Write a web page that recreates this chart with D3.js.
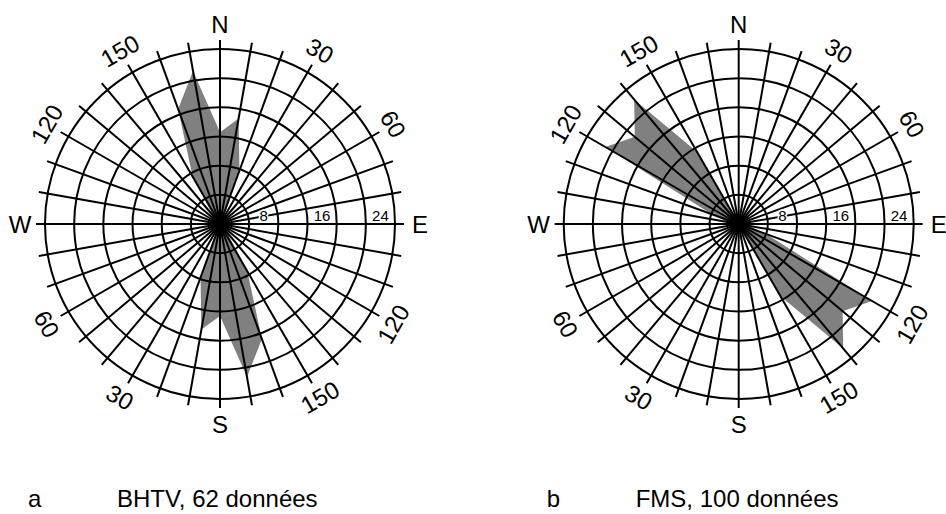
<!DOCTYPE html>
<html>
  <head>
    <meta charset="UTF-8">
    <style>
      body {
        margin: 0;
        background: #fff;
        font-family: 'Liberation Sans', Arial, sans-serif;
      }

      .grid line, .grid circle {
        stroke: #000;
        stroke-width: 2;
        fill: none;
      }

      .ring-label {
        font-size: 15px;
        paint-order: stroke;
        stroke: #fff;
        stroke-width: 3px;
      }

      .big {
        font-size: 24px;
      }
    </style>
    <script src="https://d3js.org/d3.v7.min.js"></script>
  </head>

  <body>
    <svg id="chart"></svg>

    <script type="text/javascript">
      // bin directions (degrees from N, clockwise), axial data so each value is mirrored at +180
      let bearings = [0, 10, 20, 30, 40, 50, 60, 70, 80, 90, 100, 110, 120, 130, 140, 150, 160, 170]
      let bhtvValues = [12.6, 14.7, 7.8, 1, 0, 0, 0, 0, 0, 0, 0, 0, 0, 0, 1.5, 7.5, 16.8, 21.3]
      let fmsValues = [0, 0, 0, 0, 0, 0, 0, 0, 0, 0, 1.5, 4, 21.1, 18.6, 22.3, 11.4, 0.5, 0]

      let rings = [4, 8, 12, 16, 20, 24]
      let ringLabels = [8, 16, 24]
      let angleLabels = [30, 60, 120, 150, 210, 240, 300, 330]
      let compass = [
        {name: 'N', bearing: 0},
        {name: 'E', bearing: 90},
        {name: 'S', bearing: 180},
        {name: 'W', bearing: 270},
      ]

      let panels = [
        {cx: 220, cy: 224, values: bhtvValues, letter: 'a', caption: 'BHTV, 62 données'},
        {cx: 738.7, cy: 224, values: fmsValues, letter: 'b', caption: 'FMS, 100 données'},
      ]

      let width = 946
      let height = 514

      let svg = d3.select('#chart')
        .attr('width', width)
        .attr('height', height)

      let rScale = d3.scaleLinear()
        .domain([0, 24])
        .range([0, 175])

      let rad = d => d * Math.PI / 180
      let px = (b, r) => r * Math.sin(rad(b))
      let py = (b, r) => -r * Math.cos(rad(b))

      function drawPanel(p) {
        let g = svg.append('g')
          .attr('transform', `translate(${p.cx}, ${p.cy})`)

        // full circle of bins: the second half repeats the first
        let points = bearings.map((b, i) => ({b: b, v: p.values[i]}))
          .concat(bearings.map((b, i) => ({b: b + 180, v: p.values[i]})))

        let rose = d3.lineRadial()
          .angle(d => rad(d.b))
          .radius(d => rScale(d.v))
          .curve(d3.curveLinearClosed)

        g.append('path')
          .attr('d', rose(points))
          .attr('fill', '#808080')

        let grid = g.append('g').attr('class', 'grid')

        grid.selectAll('circle')
          .data(rings)
          .enter()
          .append('circle')
          .attr('r', d => rScale(d))

        let spokeLen = rScale(24) + 9
        grid.selectAll('line')
          .data(d3.range(0, 360, 10))
          .enter()
          .append('line')
          .attr('x1', 0)
          .attr('y1', 0)
          .attr('x2', d => px(d, spokeLen))
          .attr('y2', d => py(d, spokeLen))

        g.selectAll('.ring-label')
          .data(ringLabels)
          .enter()
          .append('text')
          .attr('class', 'ring-label')
          .attr('x', d => rScale(d - 2))
          .attr('y', -3)
          .attr('text-anchor', 'middle')
          .text(d => d)

        let labelR = 200

        g.selectAll('.compass')
          .data(compass)
          .enter()
          .append('text')
          .attr('class', 'big')
          .attr('x', d => px(d.bearing, labelR))
          .attr('y', d => py(d.bearing, labelR))
          .attr('dy', '0.36em')
          .attr('text-anchor', 'middle')
          .text(d => d.name)

        g.selectAll('.angle')
          .data(angleLabels)
          .enter()
          .append('text')
          .attr('class', 'big')
          .attr('text-anchor', 'middle')
          .attr('dy', '0.36em')
          .attr('transform', d => {
            let rot = d < 90 ? d : (d < 270 ? d - 180 : d - 360)
            return `translate(${px(d, labelR)}, ${py(d, labelR)}) rotate(${rot})`
          })
          .text(d => d % 180)

        svg.append('text')
          .attr('class', 'big')
          .attr('x', p.cx - 192)
          .attr('y', 507)
          .text(p.letter)

        svg.append('text')
          .attr('class', 'big')
          .attr('x', p.cx - 103)
          .attr('y', 507)
          .text(p.caption)
      }

      panels.forEach(drawPanel)
    </script>
  </body>
</html>
